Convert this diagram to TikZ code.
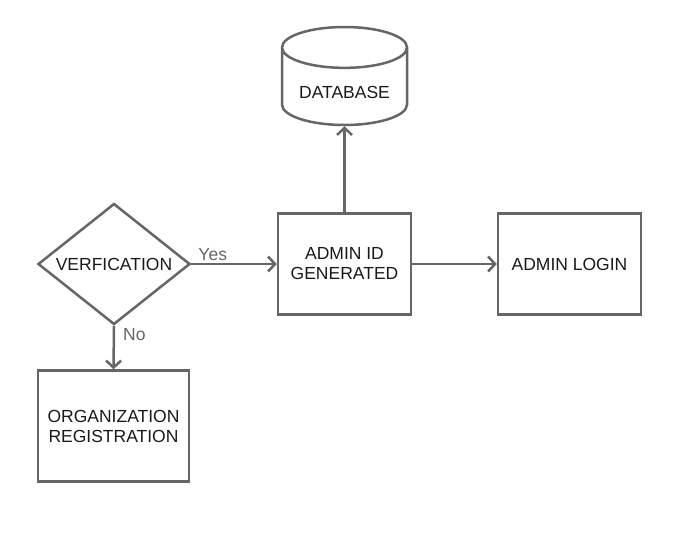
\documentclass[tikz,border=0pt]{standalone}
\usepackage{fontspec}
\setmainfont{Liberation Sans}
\usepackage{xcolor}
\usepackage{tikz}
\usetikzlibrary{positioning, arrows.meta, shapes.geometric}
\definecolor{linegray}{HTML}{666666}
\definecolor{textdark}{HTML}{1A1A1A}

\begin{document}
\begin{tikzpicture}[x=1pt, y=-1pt,
    every node/.style={font=\fontsize{17.5}{20}\selectfont, text=textdark},
    procbox/.style={draw=linegray, line width=2.5pt, align=center, inner sep=0pt},
    flowline/.style={draw=linegray, line width=2.5pt,
        -{Straight Barb[length=7pt, width=15pt]}},
    flowlabel/.style={text=linegray, inner sep=0pt}]
  \useasboundingbox[fill=white] (0,0) rectangle (677,541);

  \node[procbox, diamond, aspect=1.25, minimum width=152pt, minimum height=121pt]
    (verify) at (114,264) {VERFICATION};
  \node[procbox, minimum width=133pt, minimum height=101pt]
    (adminid) at (344.5,264) {ADMIN ID\\GENERATED};
  \node[procbox, minimum width=143pt, minimum height=101pt]
    (login) at (569.5,264) {ADMIN LOGIN};
  \node[procbox, minimum width=151pt, minimum height=111pt]
    (orgreg) at (113.5,426) {ORGANIZATION\\REGISTRATION};
  \node[procbox, cylinder, shape border rotate=90, aspect=0.45,
        minimum width=125pt, minimum height=98pt, anchor=shape center]
    (database) at (344.5,76) {\raisebox{-12pt}[0pt][0pt]{DATABASE}};

  \draw[flowline] (verify.east) -- (adminid.west)
    node[flowlabel, pos=0.07, anchor=south west, yshift=2pt] {Yes};
  \draw[flowline] (verify.south) -- (orgreg.north)
    node[flowlabel, pos=0.2, anchor=west, xshift=8pt] {No};
  \draw[flowline] (adminid.east) -- (login.west);
  \draw[flowline] (adminid.north) -- (database.south);
\end{tikzpicture}
\end{document}
